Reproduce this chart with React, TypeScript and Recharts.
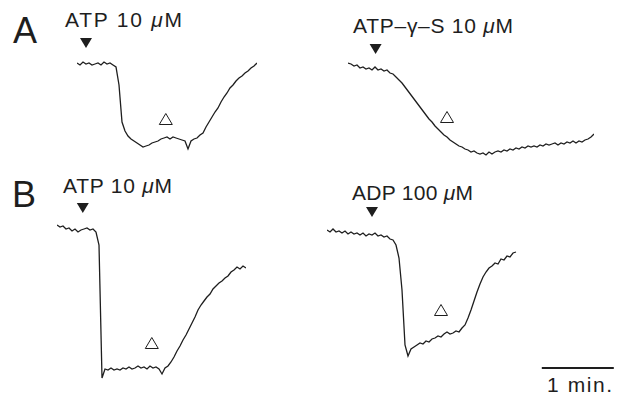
import React from "react";
import { ComposedChart, Line, Scatter, XAxis, YAxis, ReferenceLine } from "recharts";

const DT = 2.5;

const aAtp = [97,95,98,96,97,95,96,97,95,98,96,97,95,93,75,38,29,24,21,19,17,15,13,14,15,17,18,19,21,22,23,21,23,22,21,20,19,11,19,21,22,25,27,33,38,43,48,52,58,63,67,72,75,79,82,84,87,89,92,94,97];
const aAtpGS = [97,96,94,95,92,93,91,92,90,93,90,91,89,90,87,86,83,80,77,73,69,65,61,57,53,49,45,41,38,34,31,28,25,23,20,18,16,14,13,11,10,8,9,7,6,7,5,8,6,8,9,8,10,9,11,10,12,11,13,12,14,13,14,13,15,14,16,15,16,17,15,17,16,18,17,19,17,19,18,20,21,23,26];
const bAtp = [160,158,159,156,157,154,156,153,155,156,157,155,156,153,140,7,16,15,17,15,16,15,17,16,18,16,17,19,17,18,16,19,17,18,16,11,17,19,23,28,34,39,45,50,56,62,68,75,80,84,88,91,96,99,102,104,107,109,113,115,118,116,119,117];
const bAdp = [155,153,156,153,154,152,154,151,153,151,152,150,152,149,151,150,152,149,150,148,149,146,145,140,127,95,40,29,36,38,40,42,41,44,43,46,47,49,48,51,53,51,52,54,53,57,60,67,75,84,93,101,108,113,117,119,122,121,126,125,129,128,132,133];

// time (s) of agonist application (filled) and of washout (open)
const appliedAt = [7.5, 23, 21.5, 37.5];
const washedAt = [74, 82.5, 79, 95];
const drugNames = ["ATP 10 ", "ATP\u2013\u03B3\u2013S 10 ", "ATP 10 ", "ADP 100 "];
const scaleBar = [179, 239]; // 1 min

const PX_PER_S = 1.2;
const INK = "#1e1e1e";
const FONT = "'Liberation Sans', Arial, Helvetica, sans-serif";

const panels = [
  { trace: aAtp, left: 77, top: 35, tMax: 150, vMax: 125, markY: [117, 41], label: { x: 65, y: 27, w: 117 } },
  { trace: aAtpGS, left: 348, top: 35, tMax: 205, vMax: 125, markY: [111, 43], label: { x: 353, y: 33, w: 160 } },
  { trace: bAtp, left: 57, top: 200, tMax: 157.5, vMax: 185, markY: [177, 42], label: { x: 63, y: 193, w: 109 } },
  { trace: bAdp, left: 327, top: 200, tMax: 245, vMax: 185, markY: [173, 75], label: { x: 352, y: 200, w: 121 } },
];

const toSeries = (vals: number[]) => vals.map((v, i) => ({ t: i * DT, v }));

const Filled = (p: any) => (
  <polygon points={`${p.cx - 6},${p.cy - 5} ${p.cx + 6},${p.cy - 5} ${p.cx},${p.cy + 5}`} fill={INK} />
);
const Open = (p: any) => (
  <polygon points={`${p.cx - 6.5},${p.cy + 5.5} ${p.cx + 6.5},${p.cy + 5.5} ${p.cx},${p.cy - 5.5}`} fill="#fff" stroke={INK} strokeWidth={1} />
);

export default function App() {
  return (
    <div style={{ position: "absolute", left: 0, top: 0, width: 621, height: 396, background: "#fff", overflow: "hidden" }}>
      {panels.map((p, i) => (
        <div key={i} style={{ position: "absolute", left: p.left, top: p.top }}>
          <ComposedChart width={Math.round(p.tMax * PX_PER_S)} height={p.vMax} margin={{ top: 0, right: 0, bottom: 0, left: 0 }}>
            <XAxis type="number" dataKey="t" domain={[0, p.tMax]} hide />
            <YAxis type="number" domain={[0, p.vMax]} hide />
            <Line data={toSeries(p.trace)} dataKey="v" type="linear" stroke={INK} strokeWidth={1.3} dot={false} isAnimationActive={false} />
            <Scatter data={[{ t: appliedAt[i], v: p.markY[0] }]} dataKey="v" shape={Filled} isAnimationActive={false} />
            <Scatter data={[{ t: washedAt[i], v: p.markY[1] }]} dataKey="v" shape={Open} isAnimationActive={false} />
            {i === 3 && (
              <ReferenceLine segment={[{ x: scaleBar[0], y: 17 }, { x: scaleBar[1], y: 17 }]} stroke={INK} strokeWidth={2} />
            )}
          </ComposedChart>
        </div>
      ))}
      <svg width={621} height={396} style={{ position: "absolute", left: 0, top: 0, pointerEvents: "none" }} fontFamily={FONT} fill={INK}>
        <text x={13} y={43} fontSize={36}>A</text>
        <text x={12} y={207} fontSize={36}>B</text>
        {panels.map((p, i) => (
          <text key={i} x={p.label.x} y={p.label.y} fontSize={21} textLength={p.label.w} lengthAdjust="spacing">
            {drugNames[i]}
            <tspan fontStyle="italic">{"\u03BC"}</tspan>
            M
          </text>
        ))}
        <text x={547} y={392} fontSize={21} textLength={65} lengthAdjust="spacing">1 min.</text>
      </svg>
    </div>
  );
}
